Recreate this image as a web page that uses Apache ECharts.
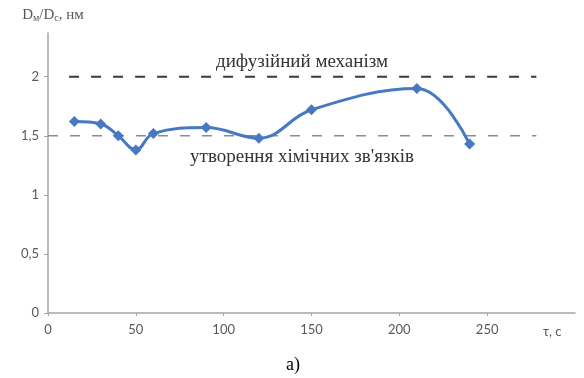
<!DOCTYPE html>
<html>
<head>
<meta charset="utf-8">
<script src="https://cdn.jsdelivr.net/npm/echarts@6/dist/echarts.min.js"></script>
<style>
  html, body { margin: 0; padding: 0; background: #fff; }
  #main { width: 584px; height: 378px; }
</style>
</head>
<body>
<div id="main"></div>
<script>
// час, с
const times = [15, 30, 40, 50, 60, 90, 120, 150, 210, 240]
// Dм/Dс, нм
const ratios = [1.62, 1.60, 1.50, 1.38, 1.52, 1.57, 1.48, 1.72, 1.90, 1.43]

// reference levels
const diffX = [12, 278]
const diffY = 2
const bondX = [0, 278]
const bondY = 1.5

const xTicks = [0, 50, 100, 150, 200, 250]
const yTicks = ['0', '0,5', '1', '1,5', '2']

const axisColor = '#a6a6a6'
const labelColor = '#595959'
const sans = 'Lato, "Noto Sans", sans-serif'
const serif = '"Liberation Serif", "DejaVu Serif", serif'

const chart = echarts.init(document.getElementById('main'))

const option = {
  animation: false,
  grid: { left: 48, right: 9, top: 33, bottom: 65 },
  xAxis: {
    type: 'value',
    min: 0,
    max: 300,
    interval: 50,
    name: 'τ, с',
    nameLocation: 'end',
    nameGap: -32,
    nameTextStyle: {
      color: labelColor, fontFamily: sans, fontSize: 13,
      verticalAlign: 'top', padding: [12, 0, 0, 0],
    },
    axisLine: { lineStyle: { color: axisColor, width: 1.5 } },
    axisTick: { length: 3, lineStyle: { color: axisColor } },
    axisLabel: {
      color: labelColor, fontFamily: sans, fontSize: 13, margin: 10,
      showMaxLabel: false,
      formatter: v => (xTicks.includes(v) ? String(v) : ''),
    },
    splitLine: { show: false },
  },
  yAxis: {
    type: 'value',
    min: 0,
    max: 2.37,
    interval: 0.5,
    name: '{b|D}{s|м}{b|/D}{s|с}{b|, нм}',
    nameLocation: 'end',
    nameGap: 10,
    nameTextStyle: {
      align: 'center',
      padding: [0, 0, 0, 10],
      rich: {
        b: { color: labelColor, fontFamily: serif, fontSize: 15 },
        s: { color: labelColor, fontFamily: serif, fontSize: 10, verticalAlign: 'bottom', padding: [6, 0, 0, 0] },
      },
    },
    axisLine: { show: true, lineStyle: { color: axisColor, width: 1.5 } },
    axisTick: { show: true, length: 4, lineStyle: { color: axisColor } },
    axisLabel: {
      color: labelColor, fontFamily: sans, fontSize: 13, margin: 9,
      showMaxLabel: false,
      formatter: v => {
        const i = Math.round(v / 0.5)
        return Math.abs(v - i * 0.5) < 1e-6 && yTicks[i] !== undefined ? yTicks[i] : ''
      },
    },
    splitLine: { show: false },
  },
  series: [
    {
      type: 'line',
      data: diffX.map(x => [x, diffY]),
      symbol: 'none',
      lineStyle: { color: '#3a3a3a', width: 2, type: [10, 12] },
      silent: true,
      z: 1,
    },
    {
      type: 'line',
      data: bondX.map(x => [x, bondY]),
      symbol: 'none',
      lineStyle: { color: '#8c8c8c', width: 1.5, type: [10, 12] },
      silent: true,
      z: 1,
    },
    {
      type: 'line',
      data: times.map((t, i) => [t, ratios[i]]),
      smooth: 0.4,
      symbol: 'diamond',
      symbolSize: 11,
      itemStyle: { color: '#4778c2' },
      lineStyle: { color: '#4778c2', width: 3 },
      z: 3,
    },
  ],
  graphic: [
    {
      type: 'text', x: 302, y: 62,
      style: {
        text: 'дифузійний механізм',
        fill: '#333', font: '19px ' + serif,
        textAlign: 'center', textVerticalAlign: 'middle',
      },
    },
    {
      type: 'text', x: 302, y: 157,
      style: {
        text: 'утворення хімічних зв\'язків',
        fill: '#333', font: '19px ' + serif,
        textAlign: 'center', textVerticalAlign: 'middle',
      },
    },
    {
      type: 'text', x: 293, y: 365,
      style: {
        text: 'а)',
        fill: '#000', font: '18px ' + serif,
        textAlign: 'center', textVerticalAlign: 'middle',
      },
    },
  ],
}

chart.setOption(option)
</script>
</body>
</html>
